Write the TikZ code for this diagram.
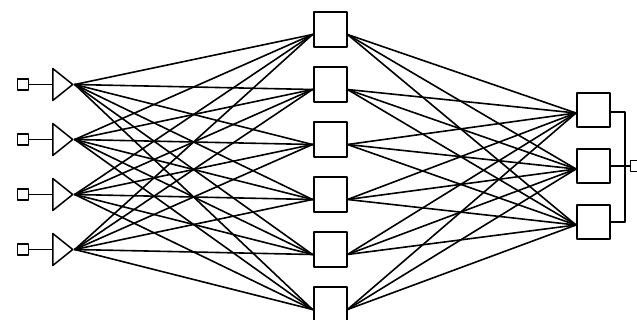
\documentclass[tikz,border=0pt]{standalone}
\usetikzlibrary{shapes.geometric}

\tikzset{
  pin/.style={draw,rectangle,inner sep=0pt,minimum size=11pt,line width=1.6pt},
  amp/.style={draw,isosceles triangle,isosceles triangle stretches,inner sep=0pt,
    minimum width=32pt,minimum height=20pt,anchor=west,line width=1.5pt},
  unit/.style={draw,rectangle,inner sep=0pt,minimum width=33pt,minimum height=35pt,line width=2pt},
  link/.style={line width=1.6pt}
}

\begin{document}
\begin{tikzpicture}[x=1pt,y=-1pt,line cap=round,line join=round]
  \path[use as bounding box] (0,0) rectangle (637,320);

  % input pins and buffers
  \foreach \i/\y in {1/84.5,2/139.5,3/194.5,4/249.5} {
    \node[pin] (in\i) at (23,\y) {};
    \node[amp] (amp\i) at (52,\y) {};
    \draw[link] (in\i.east) -- (amp\i.west);
  }

  % hidden layer
  \foreach \j/\y in {1/29.5,2/84.5,3/139.5,4/194.5,5/249.5,6/304.5}
    \node[unit] (h\j) at (330,\y) {};

  % output layer
  \foreach \k/\y in {1/110,2/166,3/222}
    \node[unit,minimum height=34pt] (o\k) at (593.5,\y) {};

  % full connections
  \foreach \i in {1,...,4}
    \foreach \j in {1,...,6}
      \draw[link] (amp\i.apex) -- ([yshift=-5pt]h\j.west);
  \foreach \j in {1,...,6}
    \foreach \k in {1,...,3}
      \draw[link] ([yshift=-5pt]h\j.east) -- ([yshift=-3pt]o\k.west);

  % summing bus
  \coordinate (busT) at (625,112);
  \coordinate (busB) at (625,222);
  \node[pin] (out) at (636,166) {};
  \draw[link] (o1.east |- busT) -- (busT) -- (busB) -- (o3.east);
  \draw[link] (o2.east) -- (out.west);
\end{tikzpicture}
\end{document}
